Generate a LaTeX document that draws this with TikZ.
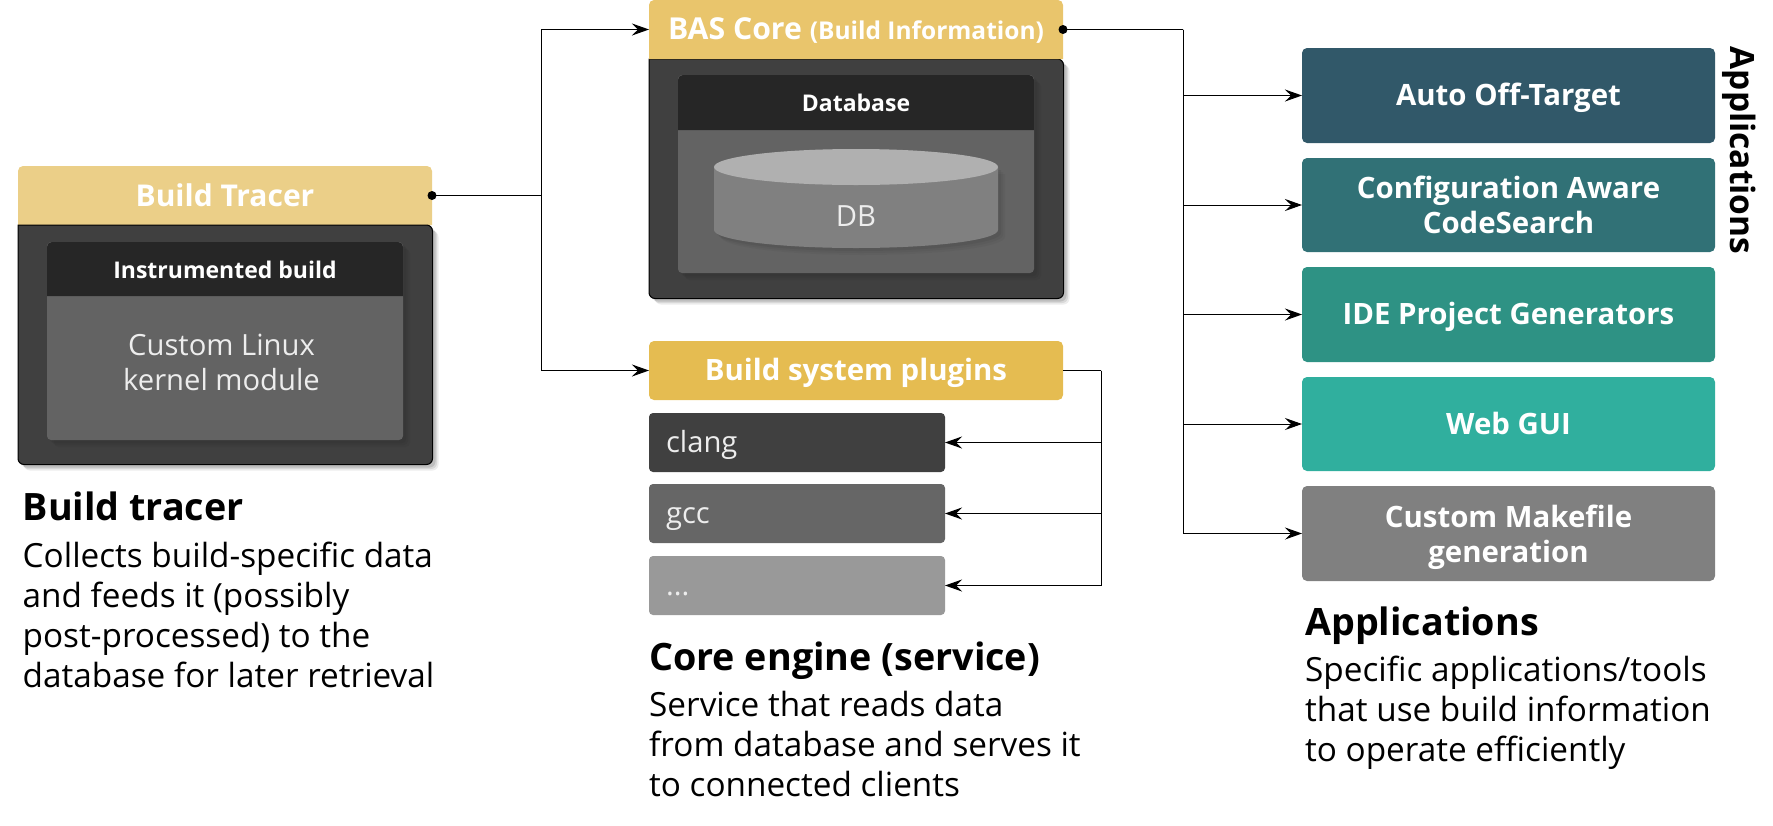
\documentclass[tikz,border=0pt]{standalone}
\usepackage{fontspec}
\setmainfont{Open Sans}
\usetikzlibrary{arrows.meta,calc}
\definecolor{hTracer}{HTML}{EBCF88}
\definecolor{hCore}{HTML}{E9C56C}
\definecolor{hPlug}{HTML}{E5BC51}
\definecolor{bodyDark}{HTML}{404040}
\definecolor{hdrDark}{HTML}{262626}
\definecolor{innerGrey}{HTML}{636363}
\definecolor{cylSide}{HTML}{808080}
\definecolor{cylTop}{HTML}{B0B0B0}
\definecolor{appA}{HTML}{315869}
\definecolor{appB}{HTML}{317176}
\definecolor{appC}{HTML}{2E9284}
\definecolor{appD}{HTML}{30AF9E}
\definecolor{appE}{HTML}{808080}
\definecolor{plugA}{HTML}{404040}
\definecolor{plugB}{HTML}{666666}
\definecolor{plugC}{HTML}{999999}
\newcommand{\fs}[2]{\fontsize{#1}{#2}\selectfont}
\tikzset{
  x=1pt,y=-1pt,
  conn/.style={line width=1pt,black},
  arr/.style={conn,-{Stealth[length=17pt,width=12pt,inset=6pt]}},
  region/.style={inner sep=0pt,outer sep=0pt,align=center,text=white},
  plainfont/.style={font=\fs{29.2}{35},text=white!93!black},
  headtext/.style={font=\bfseries\fs{30.2}{35},text height=26pt,text depth=7pt},
  subtext/.style={font=\bfseries\fs{23}{28},text height=26pt,text depth=7pt},
  apponeline/.style={font=\bfseries\fs{29.4}{35},text height=27pt,text depth=7pt},
  apptwolines/.style={font=\bfseries\fs{29.4}{35}},
  headfont/.style={font=\bfseries\fs{37.7}{44},text=black,inner sep=0pt,anchor=base west},
  paratext/.style={font=\fs{33.3}{40},text=black,inner sep=0pt,anchor=north west,align=left},
  plugbox/.style={region,rounded corners=4pt,minimum width=296pt,minimum height=59pt,text width=262pt,align=left,plainfont,text height=27pt,text depth=7pt},
  softshadow/.style={preaction={draw=none,fill=black,fill opacity=.07,transform canvas={shift={(6pt,-6pt)}}},
    preaction={draw=none,fill=black,fill opacity=.09,transform canvas={shift={(4.5pt,-4.5pt)}}},
    preaction={draw=none,fill=black,fill opacity=.12,transform canvas={shift={(3pt,-3pt)}}}},
  softshadowlight/.style={preaction={draw=none,fill=black,fill opacity=.03,transform canvas={shift={(7pt,-7pt)}}},
    preaction={draw=none,fill=black,fill opacity=.04,transform canvas={shift={(5pt,-5pt)}}},
    preaction={draw=none,fill=black,fill opacity=.05,transform canvas={shift={(3pt,-3pt)}}}}
}
\newcommand{\rbox}[8][]{%
  \node[region,fill=#7,rounded corners=5pt,minimum width=#5pt-#3pt,minimum height=#6pt-#4pt,#1] (#2) at ({(#3+#5)/2},{(#4+#6)/2}) {#8};}
\newcommand{\topbox}[8][]{%
  \fill[#7] (#3,#6) [rounded corners=5pt] -- (#3,#4) -- (#5,#4) [sharp corners] -- (#5,#6) -- cycle;
  \node[region,minimum width=#5pt-#3pt,minimum height=#6pt-#4pt,#1] (#2) at ({(#3+#5)/2},{(#4+#6)/2}) {#8};}
\begin{document}
\begin{tikzpicture}
\useasboundingbox (0,0) rectangle (1773,825);
% ---- Build tracer
\topbox[headtext,font=\bfseries\fs{30}{35},text height=28pt]{tracer}{18}{166}{432}{225}{hTracer}{Build Tracer}
\draw[softshadow,fill=bodyDark,draw=black,line width=1pt,rounded corners=6pt] (18,225) -- (18,464.5) -- (432.5,464.5) -- (432.5,225) [sharp corners] -- cycle;
\fill[softshadowlight,innerGrey,rounded corners=4pt] (47,242) rectangle (403,440);
\topbox[subtext]{instr}{47}{242}{403}{296}{hdrDark}{Instrumented build}
\node[region,plainfont] (kmod) at (221.5,362) {Custom Linux\\kernel module};
% ---- BAS core
\draw[softshadow,fill=bodyDark,draw=black,line width=1pt,rounded corners=6pt] (649,59) -- (649,298.5) -- (1063.5,298.5) -- (1063.5,59) [sharp corners] -- cycle;
\topbox[headtext]{bas}{649}{0}{1063}{59}{hCore}{BAS Core {\fs{24.5}{28}(Build Information)}}
\fill[softshadowlight,innerGrey,rounded corners=4pt] (678,75) rectangle (1034,273);
\topbox[subtext,text height=24pt]{dbhdr}{678}{75}{1034}{130}{hdrDark}{Database}
\fill[softshadowlight,cylSide] (714,167) -- (714,230) arc[start angle=180,end angle=0,x radius=142,y radius=18] -- (998,167) -- cycle;
\fill[cylTop] (856,167) ellipse[x radius=142,y radius=18];
\node[region,plainfont] (db) at (856,216) {DB};
% ---- plugins
\rbox[headtext,font=\bfseries\fs{29.4}{35}]{plugins}{649}{341}{1063}{400}{hPlug}{Build system plugins}
\node[plugbox,fill=plugA] (clang) at (797,442.5) {clang};
\node[plugbox,fill=plugB] (gcc) at (797,513.5) {gcc};
\node[plugbox,fill=plugC] (more) at (797,585.5) {...};
% ---- applications
\rbox[apponeline]{aot}{1302}{48}{1715}{143}{appA}{Auto Off-Target}
\rbox[apptwolines]{cacs}{1302}{158}{1715}{252}{appB}{Configuration Aware\\CodeSearch}
\rbox[apponeline]{ide}{1302}{267}{1715}{362}{appC}{IDE Project Generators}
\rbox[apponeline]{web}{1302}{377}{1715}{471}{appD}{Web GUI}
\rbox[apptwolines]{mk}{1302}{486}{1715}{581}{appE}{\rule{0pt}{30pt}Custom Makefile\\generation}
\node[inner sep=0pt,rotate=-90,font=\bfseries\fs{33.5}{35},text=black] (applabel) at (1739,150.5) {Applications};
% ---- connectors
\coordinate (t1) at (541,195.5);
\coordinate (t2) at (1183,29.5);
\coordinate (t3) at (1101,370.5);
\draw[conn] (tracer.east) -- (t1);
\draw[arr] (t1) |- (bas.west);
\draw[arr] (t1) |- (plugins.west);
\fill (tracer.east) circle (4.5);
\fill (bas.east) circle (4.5);
\draw[conn] (bas.east) -- (t2);
\foreach \n in {aot,cacs,ide,web,mk}{\draw[arr] (t2) |- (\n.west);}
\draw[conn] (plugins.east) -- (t3);
\foreach \n in {clang,gcc,more}{\draw[arr] (t3) |- (\n.east);}
% ---- captions
\node[headfont] (h1) at (22.5,520) {Build tracer};
\node[paratext] (p1) at (22.5,541.5) {Collects build-specific data\\and feeds it (possibly\\post-processed) to the\\database for later retrieval};
\node[headfont] (h2) at (649,670) {Core engine (service)};
\node[paratext] (p2) at (649,690.5) {Service that reads data\\from database and serves it\\to connected clients};
\node[headfont] (h3) at (1305,635) {Applications};
\node[paratext] (p3) at (1305,655.5) {Specific applications/tools\\that use build information\\to operate efficiently};
\end{tikzpicture}
\end{document}
